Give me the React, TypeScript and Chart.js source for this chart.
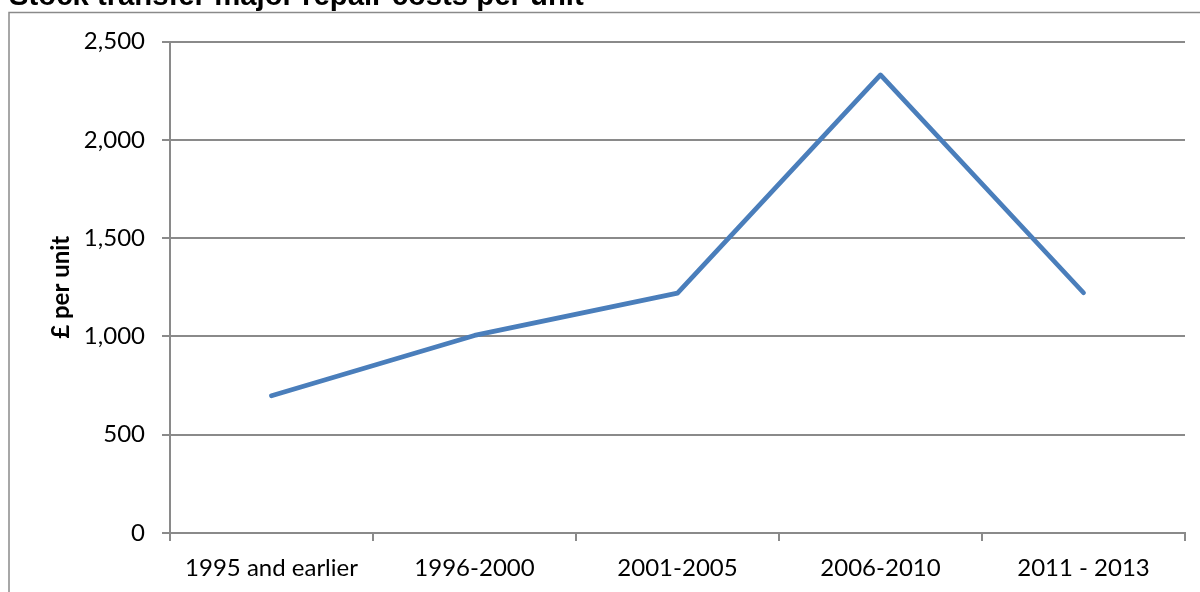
import React, { useEffect, useRef } from "react";
import { Chart, registerables } from "chart.js";

Chart.register(...registerables);

// Chart text
const TITLE = "Stock transfer major repair costs per unit";
const Y_AXIS_TITLE = "£ per unit";

// Build periods and the average major repair cost per unit (£)
const periods = ["1995 and earlier", "1996-2000", "2001-2005", "2006-2010", "2011 - 2013"];
const costPerUnit = [698, 1005, 1220, 2330, 1222];

// Value axis ticks
const yTicks = [0, 500, 1000, 1500, 2000, 2500];

const WIDTH = 1200;
const HEIGHT = 592;
const AXIS_GREY = "#8a8a8a";
const LINE_BLUE = "#4a7ebb";
const TICK_FONT = "Lato, 'Open Sans', sans-serif";

// Draws the outer frame (left and top edges) and the chart heading
const framePlugin = {
  id: "frame",
  afterDraw(chart: Chart) {
    const ctx = chart.ctx;
    ctx.save();
    ctx.strokeStyle = AXIS_GREY;
    ctx.lineWidth = 1.5;
    ctx.beginPath();
    ctx.moveTo(9, HEIGHT + 10);
    ctx.lineTo(9, 12.5);
    ctx.lineTo(WIDTH + 10, 12.5);
    ctx.stroke();

    ctx.fillStyle = "#000000";
    ctx.font = "bold 29.3px 'Liberation Sans', Arial, sans-serif";
    ctx.textAlign = "left";
    ctx.textBaseline = "alphabetic";
    ctx.fillText(TITLE, 9, 5);
    ctx.restore();
  },
};

export default function App() {
  const canvasRef = useRef<HTMLCanvasElement | null>(null);

  useEffect(() => {
    const canvas = canvasRef.current;
    if (!canvas) return;

    const chart = new Chart(canvas, {
      type: "line",
      data: {
        labels: periods,
        datasets: [
          {
            data: costPerUnit,
            borderColor: LINE_BLUE,
            backgroundColor: LINE_BLUE,
            borderWidth: 4.75,
            pointRadius: 0,
            pointHoverRadius: 0,
            tension: 0,
            borderCapStyle: "round",
            borderJoinStyle: "round",
            fill: false,
          },
        ],
      },
      options: {
        responsive: false,
        animation: false,
        events: [],
        layout: {
          padding: { left: 0, top: 41.5, right: 15, bottom: 0 },
        },
        plugins: {
          legend: { display: false },
          title: { display: false },
          tooltip: { enabled: false },
        },
        scales: {
          x: {
            type: "category",
            offset: true,
            grid: {
              display: true,
              offset: true,
              drawOnChartArea: false,
              drawTicks: true,
              tickLength: 8,
              color: AXIS_GREY,
              lineWidth: 2,
            },
            border: { display: true, color: AXIS_GREY, width: 2 },
            ticks: {
              color: "#000000",
              padding: 13,
              maxRotation: 0,
              autoSkip: false,
              font: { family: TICK_FONT, size: 24 },
            },
            afterFit(scale: any) {
              scale.height = 59;
            },
          },
          y: {
            min: yTicks[0],
            max: yTicks[yTicks.length - 1],
            grid: {
              color: AXIS_GREY,
              lineWidth: 2,
              drawTicks: true,
              tickLength: 8,
            },
            border: { display: true, color: AXIS_GREY, width: 2 },
            ticks: {
              stepSize: yTicks[1] - yTicks[0],
              color: "#000000",
              padding: 17,
              font: { family: TICK_FONT, size: 24 },
              callback: (value: any) => Number(value).toLocaleString("en-US"),
            },
            title: {
              display: true,
              text: Y_AXIS_TITLE,
              color: "#000000",
              font: { family: TICK_FONT, size: 24, weight: "bold" },
              padding: { top: 46.6, bottom: 0 },
            },
            afterFit(scale: any) {
              scale.width = 170;
            },
          },
        },
      },
      plugins: [framePlugin],
    });

    return () => chart.destroy();
  }, []);

  return (
    <div style={{ position: "absolute", left: 0, top: 0, width: WIDTH, height: HEIGHT, background: "#ffffff" }}>
      <canvas ref={canvasRef} width={WIDTH} height={HEIGHT} style={{ display: "block" }} />
    </div>
  );
}
